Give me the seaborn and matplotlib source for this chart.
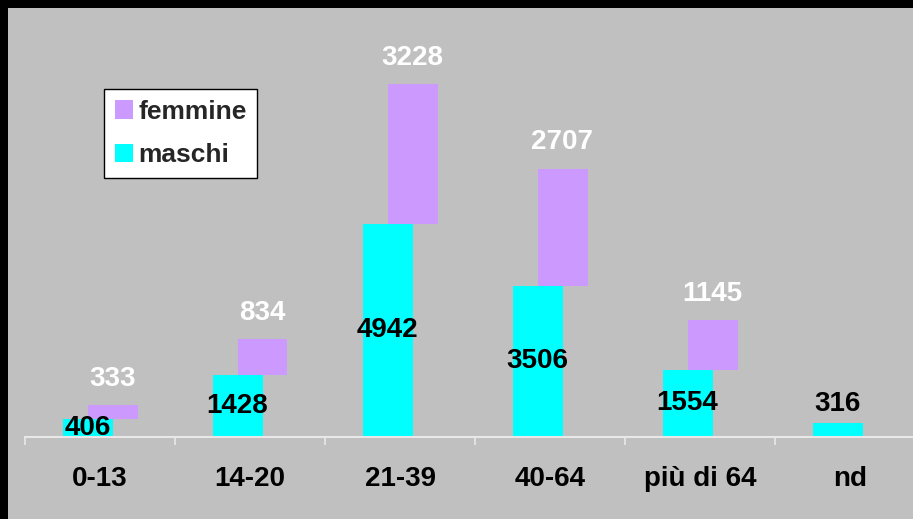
import numpy as np
import pandas as pd
import matplotlib
matplotlib.use("Agg")
import matplotlib.pyplot as plt
from matplotlib.patches import Rectangle, Patch
import seaborn as sns

categories = ["0-13", "14-20", "21-39", "40-64", "più di 64", "nd"]
maschi = [406, 1428, 4942, 3506, 1554, 316]
femmine = [333, 834, 3228, 2707, 1145, 0]

CYAN = "#00FFFF"
LILAC = "#CC99FF"
SILVER = "#C0C0C0"
AXIS_LINE = "#E8E8E8"

sns.set_theme(style="white")
plt.rcParams["font.family"] = ["Liberation Sans", "DejaVu Sans"]
plt.rcParams["font.weight"] = "bold"

W, H = 913, 519
fig = plt.figure(figsize=(W / 100, H / 100), dpi=100, facecolor="black")
fig.patches.append(Rectangle((8 / W, 0), 1, 1 - 8 / H, transform=fig.transFigure,
                             facecolor=SILVER, edgecolor="none", zorder=-10))

ax = fig.add_axes([25 / W, (H - 437) / H, 900 / W, 429 / H])
ax.set_facecolor("none")

pos = np.arange(len(categories))
shift = 1 / 12
df_m = pd.DataFrame({"pos": pos - shift, "val": maschi})
df_f = pd.DataFrame({"pos": pos + shift, "val": femmine})

sns.barplot(data=df_m, x="pos", y="val", native_scale=True, width=1 / 3,
            color=CYAN, saturation=1, linewidth=0, edgecolor="none", ax=ax, zorder=2)
n_m = len(ax.patches)
sns.barplot(data=df_f, x="pos", y="val", native_scale=True, width=1 / 3,
            color=LILAC, saturation=1, linewidth=0, edgecolor="none", ax=ax, zorder=2)
fem_patches = ax.patches[n_m:]
# stack the female bars on top of the male ones
for p, base in zip(fem_patches, maschi):
    p.set_y(base)

ax.set_xlim(-0.5, 5.5)
ax.set_ylim(0, 429 * 23.15)

# labels
fs = 20
for i, (m, f) in enumerate(zip(maschi, femmine)):
    if f > 0:
        ax.text(i - shift, m / 2, str(m), ha="center", va="center",
                fontsize=fs, fontweight="bold", color="black", zorder=5)
        ax.annotate(str(f), (i + shift, m + f), xytext=(0, 19), textcoords="offset points",
                    ha="center", va="center", fontsize=fs, fontweight="bold",
                    color="white", zorder=5)
    else:
        ax.annotate(str(m), (i - shift, m), xytext=(0, 14), textcoords="offset points",
                    ha="center", va="center", fontsize=fs, fontweight="bold",
                    color="black", zorder=5)

# axes styling
for s in ["left", "right", "top"]:
    ax.spines[s].set_visible(False)
ax.spines["bottom"].set_color(AXIS_LINE)
ax.spines["bottom"].set_linewidth(1.5)
ax.set_yticks([])
ax.set_xticks(pos)
ax.set_xticklabels(categories, fontsize=fs, fontweight="bold", color="black")
ax.set_xticks(np.arange(-0.5, 6.0, 1.0), minor=True)
ax.tick_params(axis="x", which="major", length=0, pad=21)
ax.tick_params(axis="x", which="minor", length=6, width=1.2, color=AXIS_LINE, bottom=True)
ax.set_xlabel("")
ax.set_ylabel("")

handles = [Patch(facecolor=LILAC, edgecolor="none", label="femmine"),
           Patch(facecolor=CYAN, edgecolor="none", label="maschi")]
leg = fig.legend(handles=handles, loc="upper left", bbox_to_anchor=(104 / W, 1 - 89 / H),
                 bbox_transform=fig.transFigure, frameon=True, fancybox=False,
                 prop={"size": 19, "weight": "bold"}, handlelength=0.7, handleheight=0.7,
                 handletextpad=0.2, labelspacing=0.75, borderpad=0.4, borderaxespad=0)
leg.get_frame().set_edgecolor("black")
leg.get_frame().set_facecolor("white")
leg.get_frame().set_linewidth(1.0)
leg.get_frame().set_alpha(1)

fig.savefig("out.png", dpi=100, facecolor=fig.get_facecolor())
